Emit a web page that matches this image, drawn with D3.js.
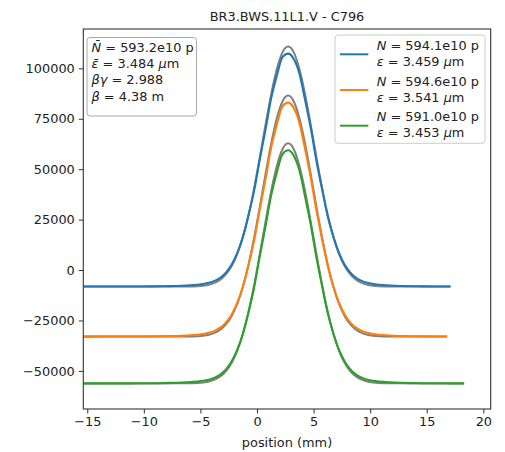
<!DOCTYPE html>
<html>
<head>
<meta charset="utf-8">
<script src="https://cdn.jsdelivr.net/npm/d3@7"></script>
<style>
  body { margin: 0; background: #fff; }
  text { font-family: "DejaVu Sans", sans-serif; }
</style>
</head>
<body>
<div id="chart"></div>
<script>
// wire scan profiles, position in mm
const position = [-15.35, -13.25, -11.25, -9.25, -8.25, -7.25, -6.25, -5.25, -4.75, -4.25, -3.75, -3.25, -2.75, -2.25, -1.75, -1.25, -0.75, -0.25, 0.25, 0.75, 1.25, 1.75, 2.25, 2.75, 3.25, 3.75, 4.25, 4.75, 5.25, 5.75, 6.25, 6.75, 7.25, 7.75, 8.25, 8.75, 9.25, 9.75, 10.25, 10.75, 11.75, 12.75, 13.75, 14.75, 15.75, 16.8, 17.1, 18.3]

const blueCounts = [-8200, -8190, -8171, -8098, -8020, -7893, -7686, -7294, -6936, -6355, -5395, -3817, -1284, 2628, 8379, 16389, 27200, 39500, 55000, 69600, 85100, 96400, 105600, 107300, 104600, 97300, 84300, 70400, 54200, 40100, 26700, 16500, 8379, 2628, -1284, -3817, -5395, -6355, -6936, -7294, -7686, -7893, -8020, -8098, -8145, -8170, -8175, null]
const blueFit = [-8200, -8200, -8200, -8200, -8200, -8195, -8160, -7986, -7739, -7259, -6366, -4800, -2202, 1873, 7905, 16307, 27291, 40722, 55990, 71966, 87088, 99610, 107900, 110800, 107900, 99610, 87088, 71966, 55990, 40722, 27291, 16307, 7905, 1873, -2202, -4800, -6366, -7259, -7739, -7986, -8160, -8195, -8200, -8200, -8200, -8200, -8200, null]

const orangeCounts = [-33000, -32990, -32971, -32897, -32820, -32692, -32484, -32091, -31731, -31148, -30183, -28599, -26055, -22127, -16351, -8308, 2500, 14900, 30400, 45100, 60700, 72100, 81200, 83000, 80300, 72900, 59900, 45900, 29700, 15400, 2100, -8200, -16351, -22127, -26055, -28599, -30183, -31148, -31731, -32091, -32484, -32692, -32820, -32897, -32945, -32970, null, null]
const orangeFit = [-33000, -33000, -33000, -33000, -33000, -32995, -32960, -32785, -32538, -32055, -31159, -29586, -26977, -22884, -16827, -8390, 2640, 16128, 31459, 47502, 62688, 75261, 83585, 86500, 83585, 75261, 62688, 47502, 31459, 16128, 2640, -8390, -16827, -22884, -26977, -29586, -31159, -32055, -32538, -32785, -32960, -32995, -33000, -33000, -33000, -33000, null, null]

const greenCounts = [-56200, -56190, -56171, -56098, -56020, -55893, -55686, -55294, -54936, -54355, -53395, -51817, -49284, -45372, -39621, -31611, -20900, -8500, 7000, 21600, 37000, 48400, 57500, 59400, 56700, 49300, 36300, 22400, 6200, -7900, -21300, -31500, -39621, -45372, -49284, -51817, -53395, -54355, -54936, -55294, -55686, -55893, -56020, -56098, -56145, -56170, -56175, -56190]
const greenFit = [-56200, -56200, -56200, -56200, -56200, -56195, -56160, -55986, -55739, -55259, -54366, -52800, -50202, -46127, -40095, -31693, -20709, -7278, 7990, 23966, 39088, 51608, 59898, 62800, 59898, 51608, 39088, 23966, 7990, -7278, -20709, -31693, -40095, -46127, -50202, -52800, -54366, -55259, -55739, -55986, -56160, -56195, -56200, -56200, -56200, -56200, -56200, -56200]

const nLabels = ["594.1e10", "594.6e10", "591.0e10"]
const emitLabels = ["3.459", "3.541", "3.453"]
const colors = ["#1f77b4", "#ff7f0e", "#2ca02c"]
const xTicks = [-15, -10, -5, 0, 5, 10, 15, 20]
const yTicks = [-50000, -25000, 0, 25000, 50000, 75000, 100000]
const title = "BR3.BWS.11L1.V - C796"

const series = [
    { counts: blueCounts, fit: blueFit },
    { counts: orangeCounts, fit: orangeFit },
    { counts: greenCounts, fit: greenFit }
]

const fs = 12.9
const minus = v => String(v).replace("-", "\u2212")

const svg = d3.select("#chart").append("svg")
    .attr("width", 505)
    .attr("height", 452)

const x = d3.scaleLinear().domain([-15.35, 20.65]).range([83.3, 490.7])
const y = d3.scaleLinear().domain([-68900, 119500]).range([409, 29])

svg.append("clipPath").attr("id", "plotclip")
    .append("rect")
    .attr("x", 83.3).attr("y", 29)
    .attr("width", 407.4).attr("height", 380)

const plot = svg.append("g").attr("clip-path", "url(#plotclip)")

const line = d3.line()
    .defined(d => d[1] !== null)
    .x(d => x(d[0]))
    .y(d => y(d[1]))
    .curve(d3.curveMonotoneX)

series.forEach((s, i) => {
    plot.append("path")
        .attr("d", line(position.map((p, j) => [p, s.fit[j]])))
        .attr("fill", "none")
        .attr("stroke", "#808080")
        .attr("stroke-width", 2)
    plot.append("path")
        .attr("d", line(position.map((p, j) => [p, s.counts[j]])))
        .attr("fill", "none")
        .attr("stroke", colors[i])
        .attr("stroke-width", 2.1)
})

// axes
const xAxis = svg.append("g")
    .attr("transform", "translate(0,409)")
    .call(d3.axisBottom(x).tickValues(xTicks).tickFormat(minus).tickSizeOuter(0).tickSize(4.5).tickPadding(3.5))
const yAxis = svg.append("g")
    .attr("transform", "translate(83.3,0)")
    .call(d3.axisLeft(y).tickValues(yTicks).tickFormat(minus).tickSizeOuter(0).tickSize(4.5).tickPadding(4))

for (const ax of [xAxis, yAxis]) {
    ax.select(".domain").remove()
    ax.selectAll("line").attr("stroke", "#333").attr("stroke-width", 1)
    ax.selectAll("text").attr("font-size", fs).attr("fill", "#222").attr("font-family", "DejaVu Sans")
}

svg.append("rect")
    .attr("x", 83.3).attr("y", 29)
    .attr("width", 407.4).attr("height", 380)
    .attr("fill", "none")
    .attr("stroke", "#333")
    .attr("stroke-width", 1.1)

svg.append("text")
    .attr("x", 287).attr("y", 21)
    .attr("text-anchor", "middle")
    .attr("font-size", fs)
    .attr("fill", "#222")
    .text(title)

svg.append("text")
    .attr("x", 287).attr("y", 447)
    .attr("text-anchor", "middle")
    .attr("font-size", fs)
    .attr("fill", "#222")
    .text("position (mm)")

function richText(g, px, py, parts) {
    const t = g.append("text")
        .attr("x", px).attr("y", py)
        .attr("font-size", fs)
        .attr("fill", "#222")
    parts.forEach(p => {
        const isMath = typeof p !== "string"
        t.append("tspan")
            .attr("font-style", isMath ? "italic" : "normal")
            .text(isMath ? p.m : p)
    })
}

// stats box
const stats = svg.append("g")
stats.append("rect")
    .attr("x", 87).attr("y", 37.5)
    .attr("width", 109.5).attr("height", 78.5)
    .attr("rx", 3)
    .attr("fill", "#fff")
    .attr("stroke", "#aaa")
    .attr("stroke-width", 1)
const statsLines = [
    [{ m: "N\u0304" }, " = 593.2e10 p"],
    [{ m: "\u03b5\u0304" }, " = 3.484 ", { m: "\u03bc" }, "m"],
    [{ m: "\u03b2\u03b3" }, " = 2.988"],
    [{ m: "\u03b2" }, " = 4.38 m"]
]
const statsY = [51.5, 67.8, 84.4, 101.3]
statsLines.forEach((l, i) => richText(stats, 91.5, statsY[i], l))

// legend
const legend = svg.append("g")
legend.append("rect")
    .attr("x", 335).attr("y", 35)
    .attr("width", 150).attr("height", 108.3)
    .attr("rx", 3)
    .attr("fill", "#fff")
    .attr("stroke", "#ccc")
    .attr("stroke-width", 1)

colors.forEach((c, i) => {
    const y0 = 50 + 35.7 * i
    legend.append("line")
        .attr("x1", 340).attr("x2", 368.3)
        .attr("y1", y0 + 4.3).attr("y2", y0 + 4.3)
        .attr("stroke", c)
        .attr("stroke-width", 2)
    richText(legend, 376.7, y0, [{ m: "N" }, " = " + nLabels[i] + " p"])
    richText(legend, 376.7, y0 + 16, [{ m: "\u03b5" }, " = " + emitLabels[i] + " ", { m: "\u03bc" }, "m"])
})
</script>
</body>
</html>
